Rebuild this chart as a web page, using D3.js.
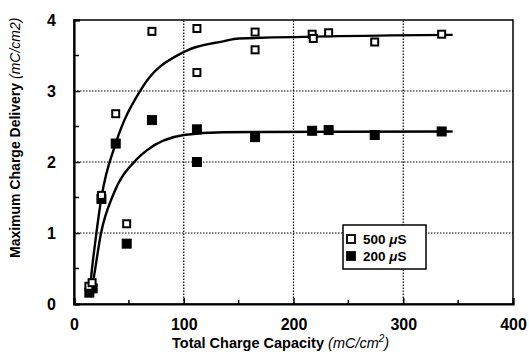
<!DOCTYPE html>
<html>
<head>
<meta charset="utf-8">
<script src="https://cdn.jsdelivr.net/npm/d3@7"></script>
<style>
  body { margin: 0; background: #fff; }
  text { font-family: "Liberation Sans", Arial, sans-serif; }
</style>
</head>
<body>
<div id="chart"></div>
<script>
var width = 529, height = 352;
var margin = {top: 20, right: 16, bottom: 48, left: 74};

// measured data, 500 uS (open squares)
var open500 = [
  [13.6, 0.25], [16.5, 0.30], [25, 1.53], [38, 2.68], [48, 1.13],
  [71, 3.84], [112, 3.88], [112, 3.26], [165, 3.83], [165, 3.58],
  [217, 3.80], [218, 3.74], [232, 3.82], [274, 3.69], [335, 3.80]
];
// measured data, 200 uS (filled squares)
var filled200 = [
  [14, 0.16], [17, 0.22], [25, 1.48], [38, 2.26], [48, 0.85],
  [71, 2.59], [112, 2.46], [112, 2.0], [165, 2.35],
  [217, 2.44], [232, 2.45], [274, 2.38], [335, 2.43]
];
// fitted curves
var fit500 = [
  [14, 0.10], [15, 0.28], [20, 0.95], [25, 1.50], [38, 2.26], [61, 3.02],
  [100, 3.55], [136, 3.70], [150, 3.74], [345, 3.79]
];
var fit200 = [
  [15.5, 0.16], [18, 0.37], [24.5, 0.99], [36, 1.55], [56, 2.02],
  [66, 2.16], [100, 2.38], [136, 2.42], [345, 2.43]
];
var xTicks = [0, 100, 200, 300, 400];
var yTicks = [0, 1, 2, 3, 4];
var xMinor = [50, 150, 250, 350];
var yMinor = [0.5, 1.5, 2.5, 3.5];
var legendItems = [
  {label: "500", filled: false},
  {label: "200", filled: true}
];

var x = d3.scaleLinear().domain([0, 400]).range([margin.left, width - margin.right]);
var y = d3.scaleLinear().domain([0, 4]).range([height - margin.bottom, margin.top]);

var svg = d3.select("#chart").append("svg")
  .attr("width", width)
  .attr("height", height);

// dotted grid
svg.append("g").selectAll("line")
  .data([100, 200, 300])
  .enter().append("line")
  .attr("x1", function(d) { return x(d); })
  .attr("x2", function(d) { return x(d); })
  .attr("y1", y(0)).attr("y2", y(4))
  .attr("stroke", "#000").attr("stroke-width", 1.2)
  .attr("stroke-dasharray", "1.5,1.5");
svg.append("g").selectAll("line")
  .data([1, 2, 3])
  .enter().append("line")
  .attr("y1", function(d) { return y(d); })
  .attr("y2", function(d) { return y(d); })
  .attr("x1", x(0)).attr("x2", x(400))
  .attr("stroke", "#000").attr("stroke-width", 1.2)
  .attr("stroke-dasharray", "1.5,1.5");

// frame
svg.append("rect")
  .attr("x", x(0)).attr("y", y(4))
  .attr("width", x(400) - x(0)).attr("height", y(0) - y(4))
  .attr("fill", "none").attr("stroke", "#000").attr("stroke-width", 1.5);

// axes
var xAxis = svg.append("g")
  .attr("transform", "translate(0," + y(0) + ")")
  .call(d3.axisBottom(x).tickValues(xTicks).tickFormat(d3.format("d")).tickSize(-6).tickPadding(12));
var yAxis = svg.append("g")
  .attr("transform", "translate(" + x(0) + ",0)")
  .call(d3.axisLeft(y).tickValues(yTicks).tickFormat(d3.format("d")).tickSize(-6).tickPadding(18));
[xAxis, yAxis].forEach(function(a) {
  a.select(".domain").attr("stroke-width", 2.2);
  a.selectAll(".tick line").attr("stroke-width", 1.5);
  a.selectAll(".tick text")
    .attr("font-size", 16).attr("font-weight", "bold")
    .attr("font-family", "'Liberation Sans', Arial, sans-serif");
});
xAxis.selectAll(".tick text").attr("dy", "0.9em");

svg.append("g").selectAll("line")
  .data(xMinor)
  .enter().append("line")
  .attr("x1", function(d) { return x(d); })
  .attr("x2", function(d) { return x(d); })
  .attr("y1", y(0)).attr("y2", y(0) - 4)
  .attr("stroke", "#000").attr("stroke-width", 1.5);
svg.append("g").selectAll("line")
  .data(yMinor)
  .enter().append("line")
  .attr("y1", function(d) { return y(d); })
  .attr("y2", function(d) { return y(d); })
  .attr("x1", x(0)).attr("x2", x(0) + 5)
  .attr("stroke", "#000").attr("stroke-width", 1.5);

// curves
var line = d3.line()
  .x(function(d) { return x(d[0]); })
  .y(function(d) { return y(d[1]); })
  .curve(d3.curveMonotoneX);
[fit500, fit200].forEach(function(f) {
  svg.append("path").datum(f)
    .attr("d", line)
    .attr("fill", "none").attr("stroke", "#000").attr("stroke-width", 2.4);
});

// markers
var s = 9;
svg.append("g").selectAll("rect")
  .data(filled200)
  .enter().append("rect")
  .attr("x", function(d) { return x(d[0]) - s / 2; })
  .attr("y", function(d) { return y(d[1]) - s / 2; })
  .attr("width", s).attr("height", s)
  .attr("fill", "#000").attr("stroke", "#000").attr("stroke-width", 1);
svg.append("g").selectAll("rect")
  .data(open500)
  .enter().append("rect")
  .attr("x", function(d) { return x(d[0]) - s / 2 + 1; })
  .attr("y", function(d) { return y(d[1]) - s / 2 + 1; })
  .attr("width", s - 2).attr("height", s - 2)
  .attr("fill", "#fff").attr("stroke", "#000").attr("stroke-width", 2);

// legend
var lg = svg.append("g").attr("transform", "translate(343,225)");
lg.append("rect")
  .attr("width", 83).attr("height", 44)
  .attr("fill", "#fff").attr("stroke", "#000").attr("stroke-width", 1.5);
var item = lg.selectAll("g.item")
  .data(legendItems)
  .enter().append("g")
  .attr("transform", function(d, i) { return "translate(0," + (14 + i * 17) + ")"; });
item.append("rect")
  .attr("x", 4).attr("y", -4)
  .attr("width", 8).attr("height", 8)
  .attr("fill", function(d) { return d.filled ? "#000" : "#fff"; })
  .attr("stroke", "#000").attr("stroke-width", 1.8);
var lt = item.append("text")
  .attr("x", 20).attr("y", 5)
  .attr("font-size", 13.5).attr("font-weight", "bold");
lt.append("tspan").text(function(d) { return d.label + " "; });
lt.append("tspan").attr("font-style", "italic").text("\u03bc");
lt.append("tspan").text("S");

// axis titles
var xt = svg.append("text")
  .attr("x", 172).attr("y", 348)
  .attr("font-size", 14.5).attr("font-weight", "bold");
xt.append("tspan").text("Total Charge Capacity ");
xt.append("tspan").attr("font-style", "italic").attr("font-weight", "normal").text("(mC/cm");
xt.append("tspan").attr("font-style", "italic").attr("font-weight", "normal")
  .attr("font-size", 10).attr("dy", -6).text("2");
xt.append("tspan").attr("font-style", "italic").attr("font-weight", "normal")
  .attr("dy", 6).text(")");

var yt = svg.append("text")
  .attr("transform", "translate(20,258) rotate(-90)")
  .attr("font-size", 14).attr("font-weight", "bold");
yt.append("tspan").text("Maximum Charge Delivery ");
yt.append("tspan").attr("font-style", "italic").attr("font-weight", "normal").text("(mC/cm2)");
</script>
</body>
</html>
